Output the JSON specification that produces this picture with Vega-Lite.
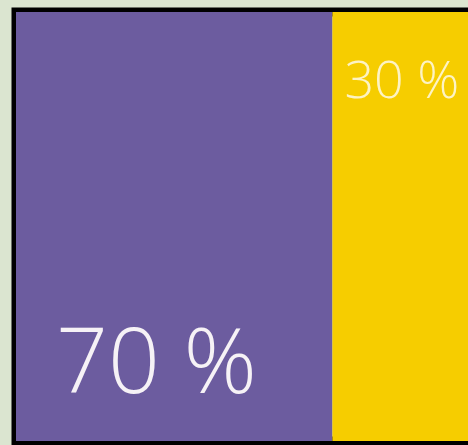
{
  "$schema": "https://vega.github.io/schema/vega-lite/v6.json",
  "width": 452,
  "height": 429,
  "autosize": {"type": "none"},
  "padding": {"left": 16, "top": 12, "right": 0, "bottom": 4},
  "background": "#dbe5d0",
  "config": {
    "view": {"stroke": "#000000", "strokeWidth": 9},
    "text": {"font": "Open Sans", "fontWeight": 300}
  },
  "data": {
    "values": [
      {"part": "A", "share": 70, "label": "70 %"},
      {"part": "B", "share": 30, "label": "30 %"}
    ]
  },
  "transform": [
    {"stack": "share", "groupby": [], "sort": [{"field": "part", "order": "ascending"}], "as": ["x0", "x1"]}
  ],
  "layer": [
    {
      "mark": {"type": "rect"},
      "encoding": {
        "x": {"field": "x0", "type": "quantitative", "scale": {"domain": [0, 100], "nice": false, "zero": true}, "axis": null},
        "x2": {"field": "x1"},
        "color": {"field": "part", "type": "nominal", "scale": {"domain": ["A", "B"], "range": ["#6c5c9f", "#f6cd00"]}, "legend": null}
      }
    },
    {
      "transform": [{"filter": "datum.part === 'A'"}],
      "mark": {"type": "text", "align": "left", "baseline": "alphabetic", "fontSize": 91, "dx": 40, "dy": 166, "color": "#f6f2f6"},
      "encoding": {
        "x": {"field": "x0", "type": "quantitative"},
        "text": {"field": "label"}
      }
    },
    {
      "transform": [{"filter": "datum.part === 'B'"}],
      "mark": {"type": "text", "align": "left", "baseline": "alphabetic", "fontSize": 52, "dx": 12, "dy": -129, "color": "#fdf3c4"},
      "encoding": {
        "x": {"field": "x0", "type": "quantitative"},
        "text": {"field": "label"}
      }
    }
  ]
}
